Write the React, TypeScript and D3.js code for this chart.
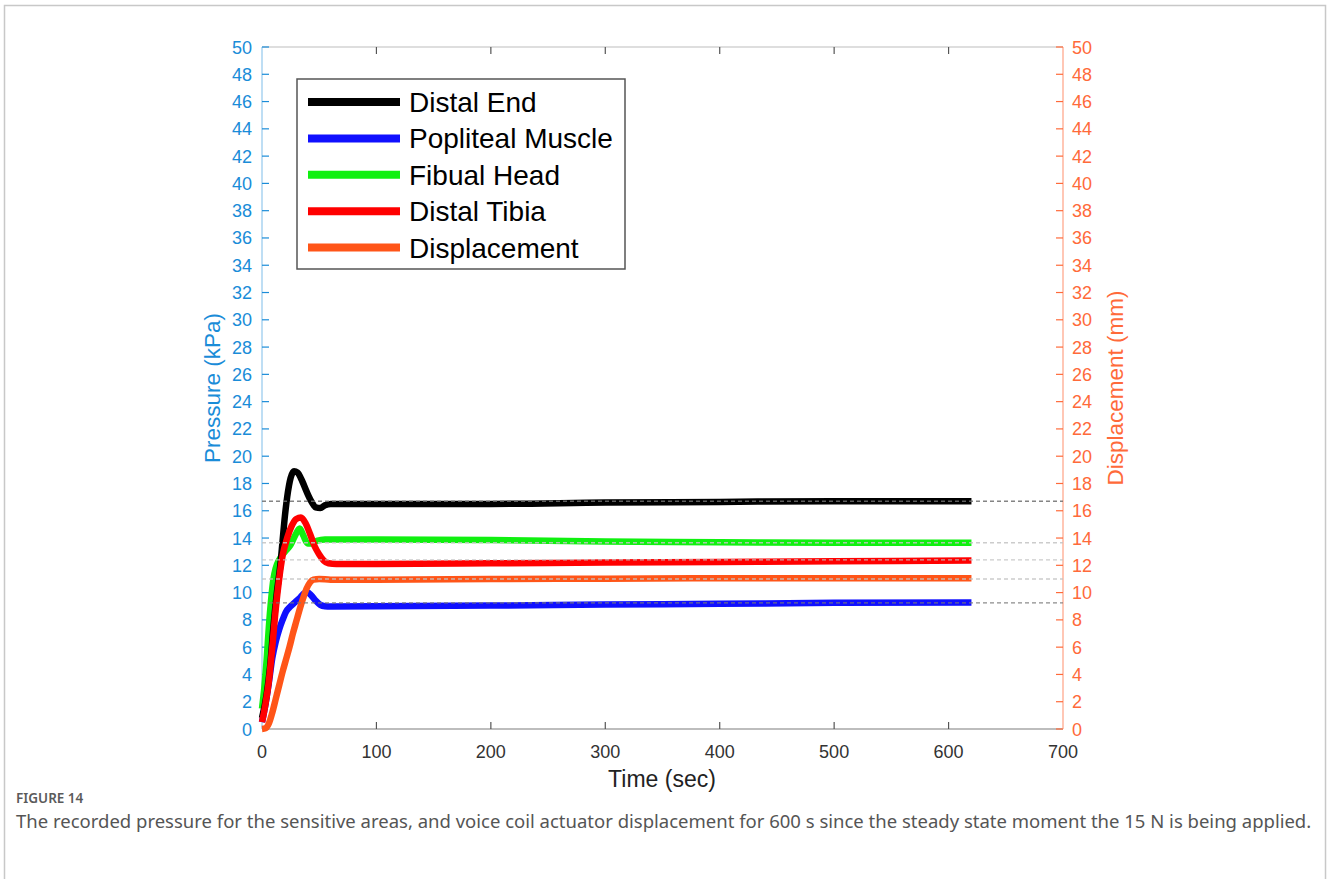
import React from "react";
import * as d3 from "d3";

// time (sec) / value samples
const distalEndT = [0, 4, 7, 10, 13, 16, 18, 20, 22, 25, 28, 31, 35, 39, 43, 47, 51, 55, 60, 100, 200, 300, 400, 500, 620];
const distalEndV = [0.8, 2.5, 4.5, 7.5, 10, 12, 13.8, 15.6, 17, 18.4, 18.9, 18.8, 18.2, 17.4, 16.7, 16.25, 16.2, 16.4, 16.5, 16.5, 16.5, 16.6, 16.65, 16.7, 16.7];

const poplitealT = [0, 3, 6, 9, 12, 15, 18, 21, 25, 29, 33, 37, 40, 43, 47, 51, 55, 60, 100, 200, 300, 400, 500, 620];
const poplitealV = [0.5, 1.8, 3.4, 5.2, 6.4, 7.3, 8.0, 8.6, 9, 9.3, 9.6, 9.95, 10, 9.8, 9.4, 9.1, 9.0, 8.98, 9.0, 9.05, 9.12, 9.18, 9.25, 9.28];

const fibualT = [0, 2, 4, 6, 8, 10, 12, 15, 20, 25, 29, 33, 36, 40, 44, 48, 55, 100, 200, 300, 400, 500, 620];
const fibualV = [1.5, 3, 5, 7.5, 9.5, 11, 11.8, 12.4, 13, 13.5, 14.2, 14.7, 14.2, 13.6, 13.6, 13.8, 13.9, 13.9, 13.85, 13.75, 13.7, 13.65, 13.65];

const tibiaT = [0, 3, 6, 9, 12, 15, 18, 22, 26, 30, 34, 38, 42, 46, 50, 54, 58, 65, 100, 200, 300, 400, 500, 620];
const tibiaV = [0.5, 1.8, 3.5, 6, 8.8, 11, 12.7, 14, 14.9, 15.4, 15.5, 15.1, 14.3, 13.4, 12.8, 12.35, 12.15, 12.1, 12.1, 12.15, 12.2, 12.25, 12.3, 12.35];

const dispT = [0, 3, 6, 9, 12, 15, 18, 21, 24, 27, 30, 33, 36, 39, 42, 45, 50, 60, 100, 200, 300, 400, 500, 620];
const dispV = [0, 0.05, 0.4, 1.2, 2.2, 3.2, 4.2, 5.1, 6, 7, 7.9, 8.8, 9.6, 10.3, 10.75, 10.95, 11, 10.95, 10.95, 11, 11.02, 11.05, 11.05, 11.05];

const seriesNames = ["Distal End", "Popliteal Muscle", "Fibual Head", "Distal Tibia", "Displacement"];
const seriesColors = ["#000000", "#1010ff", "#10f010", "#ff0000", "#ff5518"];

// dashed steady-state guides
const guideLevels = [16.7, 13.65, 12.4, 11.0, 9.25];
const guideColors = ["#6f6f6f", "#c4c4c4", "#c4c4c4", "#c4c4c4", "#7a7a7a"];

const xTicks = [0, 100, 200, 300, 400, 500, 600, 700];
const yTicks = d3.range(0, 51, 2);

const W = 1327;
const H = 879;
const plot = { left: 262, right: 1063, top: 47, bottom: 729 };
const font = "'Liberation Sans', Arial, sans-serif";
const capFont = "'Noto Sans', 'Open Sans', sans-serif";
const blue = "#1a8cd8";
const orange = "#ff6a3a";

export default function App() {
  const x = d3.scaleLinear().domain([0, 700]).range([plot.left, plot.right]);
  const y = d3.scaleLinear().domain([0, 50]).range([plot.bottom, plot.top]);

  const zip = (t: number[], v: number[]) => t.map((d, i) => [d, v[i]] as [number, number]);
  const series = [
    zip(distalEndT, distalEndV),
    zip(poplitealT, poplitealV),
    zip(fibualT, fibualV),
    zip(tibiaT, tibiaV),
    zip(dispT, dispV),
  ];
  const line = d3
    .line<[number, number]>()
    .x((d) => x(d[0]))
    .y((d) => y(d[1]))
    .curve(d3.curveMonotoneX);

  // blue, green, black, red, orange
  const drawOrder = [1, 2, 0, 3, 4];

  return (
    <svg width={W} height={H} style={{ position: "absolute", left: 0, top: 0, background: "#fff" }}>
      <rect x={4.5} y={5.5} width={1321} height={960} fill="none" stroke="#c8c8c8" strokeWidth={1.5} />

      {/* frame */}
      <line x1={plot.left} x2={plot.right} y1={plot.top} y2={plot.top} stroke="#bdbdbd" strokeWidth={1.2} />
      <line x1={plot.left} x2={plot.right} y1={plot.bottom} y2={plot.bottom} stroke="#7d7d7d" strokeWidth={1.2} />
      {xTicks.slice(1, -1).map((t) => (
        <g key={"xt" + t}>
          <line x1={x(t)} x2={x(t)} y1={plot.bottom} y2={plot.bottom - 7} stroke="#555" strokeWidth={1.2} />
          <line x1={x(t)} x2={x(t)} y1={plot.top} y2={plot.top + 7} stroke="#555" strokeWidth={1.2} />
        </g>
      ))}
      {xTicks.map((t) => (
        <text key={"xl" + t} x={x(t)} y={758} textAnchor="middle" fontFamily={font} fontSize={18} fill="#333">
          {t}
        </text>
      ))}

      {/* left axis */}
      <line x1={plot.left} x2={plot.left} y1={plot.top} y2={plot.bottom} stroke="#a9d3f0" strokeWidth={1.5} />
      {yTicks.map((t) => (
        <g key={"yl" + t}>
          <line x1={plot.left} x2={plot.left + 7} y1={y(t)} y2={y(t)} stroke={blue} strokeWidth={1.2} />
          <text x={252} y={y(t) + 6.5} textAnchor="end" fontFamily={font} fontSize={18} fill={blue}>
            {t}
          </text>
        </g>
      ))}
      <text
        transform={`translate(220,388) rotate(-90)`}
        textAnchor="middle"
        fontFamily={font}
        fontSize={22.5}
        fill={blue}
      >
        Pressure (kPa)
      </text>

      {/* right axis */}
      <line x1={plot.right} x2={plot.right} y1={plot.top} y2={plot.bottom} stroke="#ffb59c" strokeWidth={1.5} />
      {yTicks.map((t) => (
        <g key={"yr" + t}>
          <line x1={plot.right} x2={plot.right - 7} y1={y(t)} y2={y(t)} stroke={orange} strokeWidth={1.2} />
          <text x={1072} y={y(t) + 6.5} textAnchor="start" fontFamily={font} fontSize={18} fill={orange}>
            {t}
          </text>
        </g>
      ))}
      <text
        transform={`translate(1123,388) rotate(-90)`}
        textAnchor="middle"
        fontFamily={font}
        fontSize={22.5}
        fill={orange}
      >
        Displacement (mm)
      </text>

      <text x={662} y={787} textAnchor="middle" fontFamily={font} fontSize={23} fill="#222">
        Time (sec)
      </text>

      {/* series */}
      {drawOrder.map((i) => (
        <path
          key={seriesNames[i]}
          d={line(series[i]) || ""}
          fill="none"
          stroke={seriesColors[i]}
          strokeWidth={6.5}
          strokeLinejoin="round"
          strokeLinecap="butt"
        />
      ))}

      {guideLevels.map((v, i) => (
        <line
          key={"g" + i}
          x1={plot.left}
          x2={plot.right}
          y1={y(v)}
          y2={y(v)}
          stroke={guideColors[i]}
          strokeWidth={1.4}
          strokeDasharray="4 3"
          opacity={0.85}
        />
      ))}

      {/* legend */}
      <rect x={297} y={79} width={328} height={190} fill="#fff" stroke="#555" strokeWidth={1.5} />
      {seriesNames.map((name, i) => {
        const cy = 102 + i * 36.4;
        return (
          <g key={"lg" + name}>
            <line x1={308} x2={400} y1={cy} y2={cy} stroke={seriesColors[i]} strokeWidth={8} />
            <text x={409} y={cy + 10} fontFamily={font} fontSize={28} fill="#000">
              {name}
            </text>
          </g>
        );
      })}

      {/* caption */}
      <text x={16} y={803} fontFamily={capFont} fontSize={13.5} fontWeight={600} fill="#5a5a5a">
        FIGURE 14
      </text>
      <text x={16} y={828} fontFamily={capFont} fontSize={18.5} fill="#555">
        The recorded pressure for the sensitive areas, and voice coil actuator displacement for 600 s since the steady state moment the 15 N is being applied.
      </text>
    </svg>
  );
}
